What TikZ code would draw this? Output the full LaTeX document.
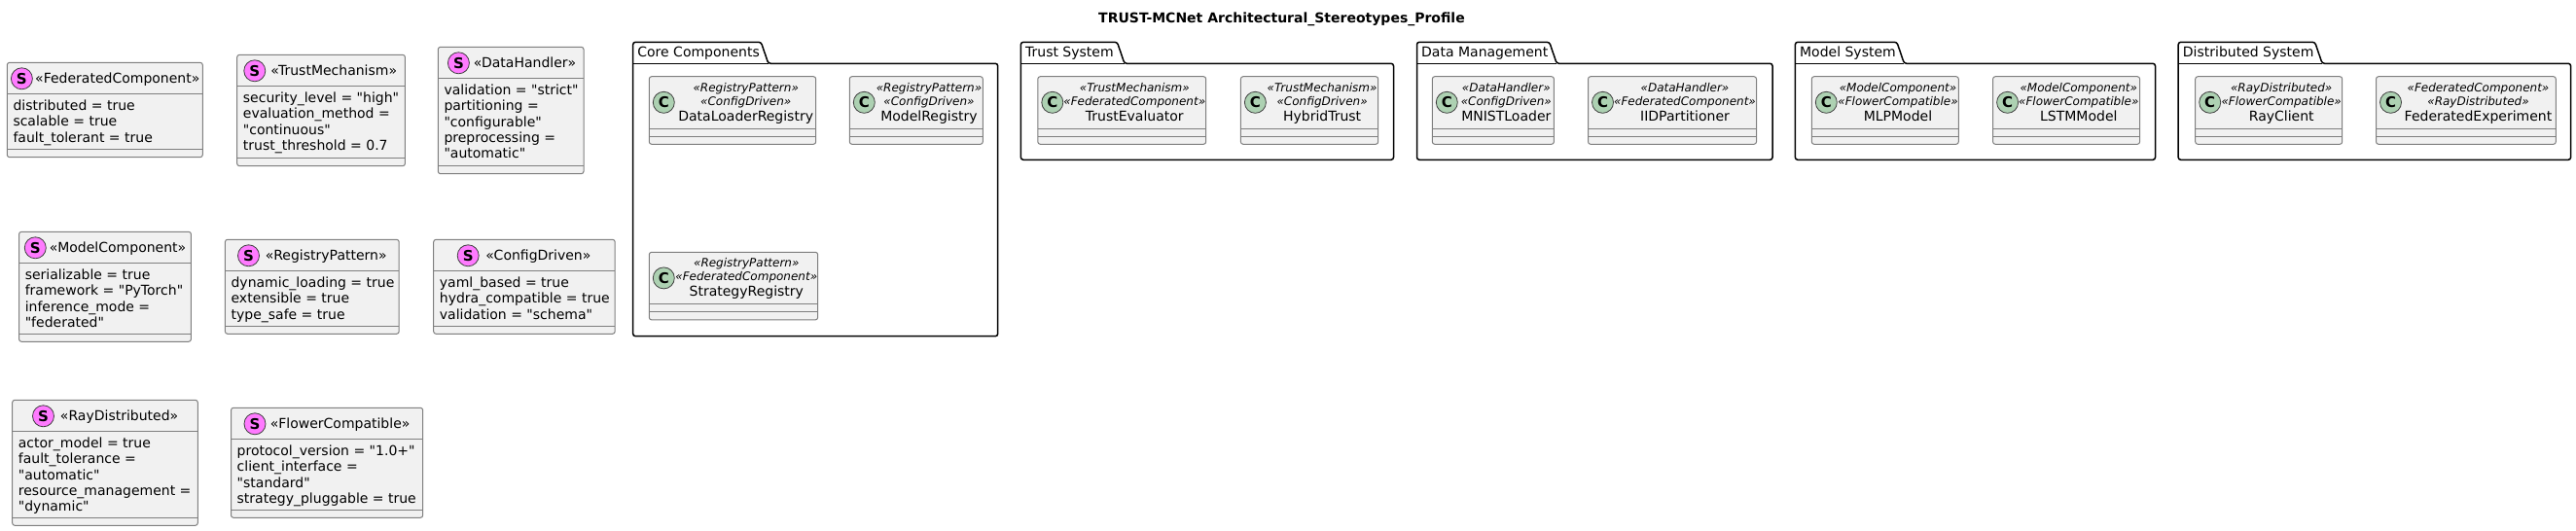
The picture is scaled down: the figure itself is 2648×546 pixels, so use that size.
\documentclass[tikz,border=0pt]{standalone}
\usepackage{fontspec}
\setmainfont{DejaVu Sans}[Ligatures=TeXOff]
\usetikzlibrary{
  calc,
  fit,
}
\definecolor{boxfill}{HTML}{F1F1F1}
\definecolor{boxline}{HTML}{7F7F7F}
\definecolor{stereospot}{HTML}{FF7AFF}
\definecolor{classspot}{HTML}{ADD1B2}
\tikzset{
  umlbox/.style={draw=boxline, fill=boxfill, line width=1pt, rounded corners=2.5pt, inner sep=0pt},
  umlsep/.style={draw=boxline, line width=1pt},
  spot/.style={circle, draw=black!75, line width=.8pt, minimum size=22pt, inner sep=0pt, font=\fontsize{15}{15}\selectfont\bfseries},
  headtext/.style={inner sep=0pt, anchor=base, font=\fontsize{14}{14}\selectfont},
  fieldtext/.style={inner sep=0pt, align=left, anchor=north west, font=\fontsize{14}{16.33}\selectfont},
  stereoline/.style={inner sep=0pt, anchor=base, font=\fontsize{12}{12}\selectfont\itshape},
  classtext/.style={inner sep=0pt, anchor=base, font=\fontsize{14}{14}\selectfont},
  pkgline/.style={draw=black, line width=1.5pt, rounded corners=2.5pt},
  pkgtext/.style={inner sep=0pt, anchor=base west, font=\fontsize{14}{14}\selectfont},
}
% name, left, top, right, bottom, spot x, text x, stereotype, fields
\newcommand{\stereobox}[9]{
  \node (#1) [umlbox, fit={(#2,#3) (#4,#5)}] {};
  \draw [umlsep] (#2,#3+32) -- (#4,#3+32);
  \draw [umlsep] (#2,#5-8) -- (#4,#5-8);
  \node (#1-spot) [spot, fill=stereospot] at (#6,#3+16.5) {S};
  \node (#1-head) [headtext] at (#7,#3+21.4) {«#8»};
  \node (#1-fields) [fieldtext] at (#2+6,#3+38.4) {#9};
}
% name, left, top, right, text x, first stereotype, second stereotype, class
\newcommand{\classbox}[8]{
  \node (#1) [umlbox, fit={(#2,#3) (#4,#3+69.6)}] {};
  \draw [umlsep] (#2,#3+53.6) -- (#4,#3+53.6);
  \draw [umlsep] (#2,#3+61.6) -- (#4,#3+61.6);
  \node (#1-spot) [spot, fill=classspot] at (#2+15,#3+26.6) {C};
  \node (#1-first) [stereoline] at (#5,#3+15.3) {«#6»};
  \node (#1-second) [stereoline] at (#5,#3+29.6) {«#7»};
  \node (#1-name) [classtext] at (#5,#3+45.3) {#8};
}
% name, left, tab right, right, bottom, label
\newcommand{\pkgbox}[6]{
  \draw [pkgline] (#2,65.3) -- (#2,43.3) -- (#3,43.3) -- (#3+7.5,65.3) -- (#4,65.3) -- (#4,#5) -- (#2,#5) -- cycle;
  \draw [pkgline] (#2,65.3) -- (#3+7.5,65.3);
  \node (#1) [pkgtext] at (#2+4.5,58.3) {#6};
}

\begin{document}
\begin{tikzpicture}[x=1pt, y=-1pt]
  \useasboundingbox (0,0) rectangle (2648,546);
  \node (title) [inner sep=0pt, anchor=base, font=\fontsize{14}{14}\selectfont\bfseries] at (1317.5,23.3) {TRUST-MCNet Architectural\_Stereotypes\_Profile};

  % stereotypes
  \stereobox{federated}{7.3}{64.3}{208.3}{161.7}{22.4}{120.8}{FederatedComponent}{distributed = true\\scalable = true\\fault\_tolerant = true}
  \stereobox{trust}{243.7}{56.3}{416.4}{170.7}{261.8}{343.2}{TrustMechanism}{security\_level = "high"\\evaluation\_method =\\"continuous"\\trust\_threshold = 0.7}
  \stereobox{data}{450.3}{48.3}{600}{178.7}{471.4}{539.5}{DataHandler}{validation = "strict"\\partitioning =\\"configurable"\\preprocessing =\\"automatic"}
  \stereobox{model}{19.6}{238.3}{196.4}{351.3}{36.3}{121}{ModelComponent}{serializable = true\\framework = "PyTorch"\\inference\_mode =\\"federated"}
  \stereobox{registry}{231.4}{246.3}{410.2}{343.3}{255.5}{335.2}{RegistryPattern}{dynamic\_loading = true\\extensible = true\\type\_safe = true}
  \stereobox{config}{445.7}{246.3}{632.2}{343.3}{481.2}{553.4}{ConfigDriven}{yaml\_based = true\\hydra\_compatible = true\\validation = "schema"}
  \stereobox{ray}{12.7}{411.3}{203.3}{540.3}{44.5}{122.6}{RayDistributed}{actor\_model = true\\fault\_tolerance =\\"automatic"\\resource\_management =\\"dynamic"}
  \stereobox{flower}{237.5}{419.3}{434.7}{532.3}{262}{349.6}{FlowerCompatible}{protocol\_version = "1.0+"\\client\_interface =\\"standard"\\strategy\_pluggable = true}

  % packages
  \pkgbox{core}{650.7}{782.3}{1025.7}{345.7}{Core Components}
  \pkgbox{trustsys}{1049.4}{1148.4}{1432.5}{164.3}{Trust System}
  \pkgbox{datamgmt}{1456.5}{1592.7}{1822}{164.3}{Data Management}
  \pkgbox{modelsys}{1845.4}{1949.9}{2215.5}{164.3}{Model System}
  \pkgbox{distsys}{2239.2}{2379.6}{2642.6}{164.3}{Distributed System}

  % classes
  \classbox{dataloaderreg}{667.3}{78.7}{838.7}{766.7}{RegistryPattern}{ConfigDriven}{DataLoaderRegistry}
  \classbox{modelreg}{873.3}{78.7}{1010.3}{955}{RegistryPattern}{ConfigDriven}{ModelRegistry}
  \classbox{strategyreg}{667.3}{259.3}{840.7}{767.3}{RegistryPattern}{FederatedComponent}{StrategyRegistry}
  \classbox{evaluator}{1066.8}{78.7}{1239.7}{1166.3}{TrustMechanism}{FederatedComponent}{TrustEvaluator}
  \classbox{hybrid}{1275.4}{78.7}{1416.7}{1359.1}{TrustMechanism}{ConfigDriven}{HybridTrust}
  \classbox{mnist}{1472.3}{78.7}{1597.4}{1548.3}{DataHandler}{ConfigDriven}{MNISTLoader}
  \classbox{iid}{1632.5}{78.7}{1805.5}{1732}{DataHandler}{FederatedComponent}{IIDPartitioner}
  \classbox{mlp}{1862.3}{78.7}{2013.3}{1951}{ModelComponent}{FlowerCompatible}{MLPModel}
  \classbox{lstm}{2048.6}{78.7}{2199.6}{2136.8}{ModelComponent}{FlowerCompatible}{LSTMModel}
  \classbox{rayclient}{2256.7}{78.7}{2407.7}{2345.2}{RayDistributed}{FlowerCompatible}{RayClient}
  \classbox{experiment}{2442.5}{78.7}{2627.3}{2547.5}{FederatedComponent}{RayDistributed}{FederatedExperiment}
\end{tikzpicture}
\end{document}
